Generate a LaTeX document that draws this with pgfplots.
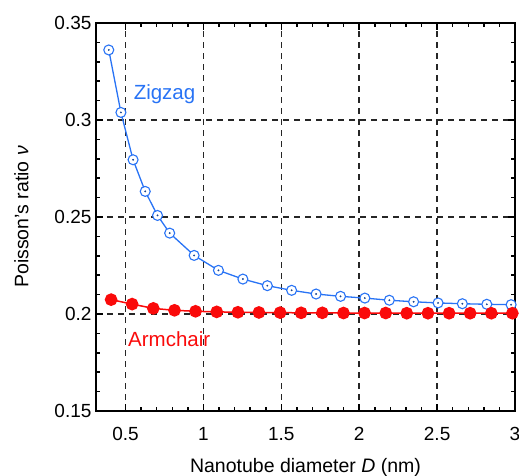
\documentclass[border=0pt]{standalone}
\usepackage{pgfplots}
\pgfplotsset{compat=1.18}
\usepackage{fontspec}
\setmainfont{Liberation Sans}
\definecolor{zz}{RGB}{40,115,245}
\definecolor{ac}{RGB}{250,10,10}
\begin{document}
\begin{tikzpicture}
\useasboundingbox (-96pt,-65pt) rectangle (423pt,411pt);
\begin{axis}[
  scale only axis, width=419pt, height=388pt,
  xmin=0.31, xmax=3, ymin=0.15, ymax=0.35,
  xtick={0.5,1,1.5,2,2.5,3}, ytick={0.15,0.2,0.25,0.3,0.35},
  minor x tick num=4, minor y tick num=4,
  xticklabels={0.5,1,1.5,2,2.5,3},
  yticklabels={0.15,0.2,0.25,0.3,0.35},
  tick align=inside, major tick length=7pt, minor tick length=4pt,
  every tick/.style={black, line width=1.5pt},
  axis line style={line width=2.5pt},
  grid=major, major grid style={black!85, dashed, line width=1.7pt, dash pattern=on 6pt off 5pt},
  ticklabel style={font=\fontsize{19}{22}\selectfont},
  xticklabel style={yshift=-13pt},
  yticklabel style={xshift=-1pt},
  /pgf/number format/assume math mode=true,
  xlabel={Nanotube diameter \textit{D} (nm)},
  ylabel={Poisson's ratio \textit{ν}},
  label style={font=\fontsize{19.5}{23}\selectfont},
  xlabel style={yshift=-11pt},
  ylabel style={yshift=19pt},
  clip=false,
]
\addplot[zz, line width=1.3pt, mark=*, mark size=5pt, mark options={fill=white, draw=zz, line width=1.1pt}] coordinates {
(0.392,0.3361) (0.470,0.3039) (0.548,0.2795) (0.626,0.2632) (0.705,0.2508) (0.783,0.2417)
(0.940,0.2302) (1.096,0.2225) (1.253,0.2180) (1.410,0.2146) (1.566,0.2122) (1.723,0.2103)
(1.880,0.2091) (2.036,0.2082) (2.193,0.2071) (2.349,0.2063) (2.506,0.2057) (2.662,0.2053)
(2.819,0.2050) (2.975,0.2048)};
\addplot[only marks, zz!60!black, mark=*, mark size=0.7pt] coordinates {
(0.392,0.3361) (0.470,0.3039) (0.548,0.2795) (0.626,0.2632) (0.705,0.2508) (0.783,0.2417)
(0.940,0.2302) (1.096,0.2225) (1.253,0.2180) (1.410,0.2146) (1.566,0.2122) (1.723,0.2103)
(1.880,0.2091) (2.036,0.2082) (2.193,0.2071) (2.349,0.2063) (2.506,0.2057) (2.662,0.2053)
(2.819,0.2050) (2.975,0.2048)};
\addplot[ac, line width=1.5pt, mark=*, mark size=5.6pt, mark options={fill=ac, draw=ac}] coordinates {
(0.407,0.2074) (0.542,0.2051) (0.678,0.2029) (0.814,0.2019) (0.949,0.2014) (1.085,0.2011)
(1.221,0.2009) (1.356,0.2008) (1.492,0.2007) (1.627,0.2006) (1.763,0.2006) (1.899,0.2005)
(2.034,0.2005) (2.170,0.2005) (2.305,0.2004) (2.441,0.2004) (2.577,0.2004) (2.712,0.2004)
(2.848,0.2004) (2.983,0.2004)};
\node[zz, font=\fontsize{20.5}{24}\selectfont] at (axis cs:0.75,0.3135) {Zigzag};
\node[ac, font=\fontsize{20.5}{24}\selectfont] at (axis cs:0.78,0.1870) {Armchair};
\end{axis}
\end{tikzpicture}
\end{document}
